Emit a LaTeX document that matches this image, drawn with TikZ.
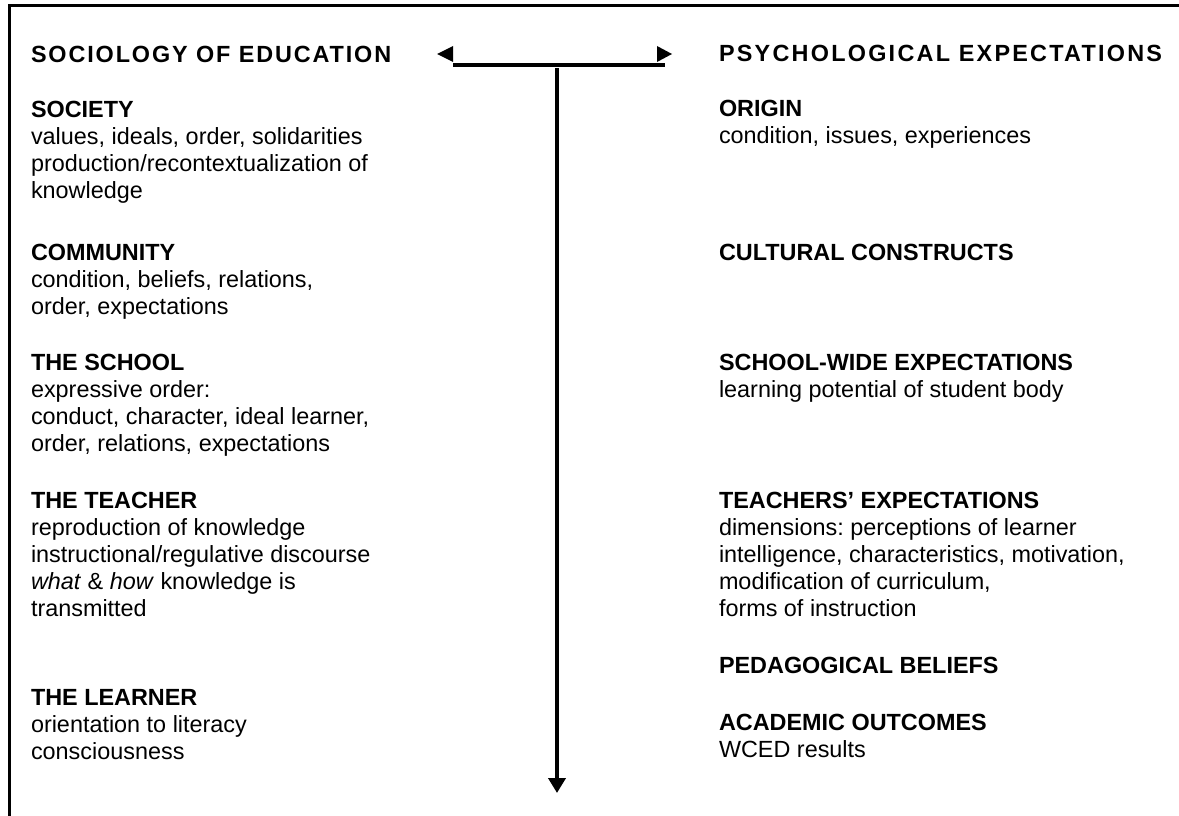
\documentclass[tikz,border=0pt]{standalone}
\usepackage{fontspec}
\setmainfont{Liberation Sans}
\usetikzlibrary{arrows.meta}
\newcommand\diagfont{\fontsize{23.4}{27.2}\selectfont\frenchspacing}
\begin{document}
\begin{tikzpicture}[x=1pt,y=-1pt,
  block/.style={anchor=north west, inner sep=0pt, outer sep=0pt, align=left, font=\diagfont},
  heading/.style={block, font=\diagfont\bfseries\addfontfeature{LetterSpace=#1}},
  frame/.style={line width=3pt, line join=miter},
  axis/.style={line width=4pt},
  head/.style={fill=black, draw=none}]
\useasboundingbox (0,0) rectangle (1179,816);

% open frame: top and left edges
\coordinate (fbl) at (9.5,816);
\coordinate (ftl) at (9.5,5.3);
\coordinate (ftr) at (1179,5.3);
\draw[frame] (fbl) -- (ftl) -- (ftr);

% column headings
\node[heading=8] (hsoc) at (31,43) {\strut SOCIOLOGY OF EDUCATION};
\node[heading=9.6] (hpsy) at (719,42) {\strut PSYCHOLOGICAL EXPECTATIONS};

% left column
\node[block] (society) at (31,98) {\strut\textbf{SOCIETY}\\
  \strut values, ideals, order, solidarities\\
  \strut production/recontextualization of\\
  \strut knowledge};
\node[block] (community) at (31,241) {\strut\textbf{COMMUNITY}\\
  \strut condition, beliefs, relations,\\
  \strut order, expectations};
\node[block] (school) at (31,351) {\strut\textbf{THE SCHOOL}\\
  \strut expressive order:\\
  \strut conduct, character, ideal learner,\\
  \strut order, relations, expectations};
\node[block] (teacher) at (31,489) {\strut\textbf{THE TEACHER}\\
  \strut reproduction of knowledge\\
  \strut instructional/regulative discourse\\
  \strut\textit{what} \& \textit{how} knowledge is\\
  \strut transmitted};
\node[block] (learner) at (31,686) {\strut\textbf{THE LEARNER}\\
  \strut orientation to literacy\\
  \strut consciousness};

% right column
\node[block] (origin) at (719,97) {\strut\textbf{ORIGIN}\\
  \strut condition, issues, experiences};
\node[block] (cultural) at (719,241) {\strut\textbf{CULTURAL CONSTRUCTS}};
\node[block] (schoolwide) at (719,351) {\strut\textbf{SCHOOL-WIDE EXPECTATIONS}\\
  \strut learning potential of student body};
\node[block] (texp) at (719,489) {\strut\textbf{TEACHERS’ EXPECTATIONS}\\
  \strut dimensions: perceptions of learner\\
  \strut intelligence, characteristics, motivation,\\
  \strut modification of curriculum,\\
  \strut forms of instruction};
\node[block] (pedag) at (719,654) {\strut\textbf{PEDAGOGICAL BELIEFS}};
\node[block] (outcomes) at (719,711) {\strut\textbf{ACADEMIC OUTCOMES}\\
  \strut WCED results};

% horizontal bar with its two arrowheads
\coordinate (hl) at (453,64.7);
\coordinate (hr) at (665,64.7);
\draw[axis] (hl) -- (hr);
\fill[head] (437,54) -- (453,46) -- (453,62) -- cycle;
\fill[head] (657,46) -- (672,54) -- (657,62) -- cycle;

% vertical arrow downwards
\coordinate (vt) at (557,68.5);
\coordinate (vb) at (557,793);
\draw[axis, -{Triangle[length=15pt,width=17pt]}] (vt) -- (vb);
\end{tikzpicture}
\end{document}
